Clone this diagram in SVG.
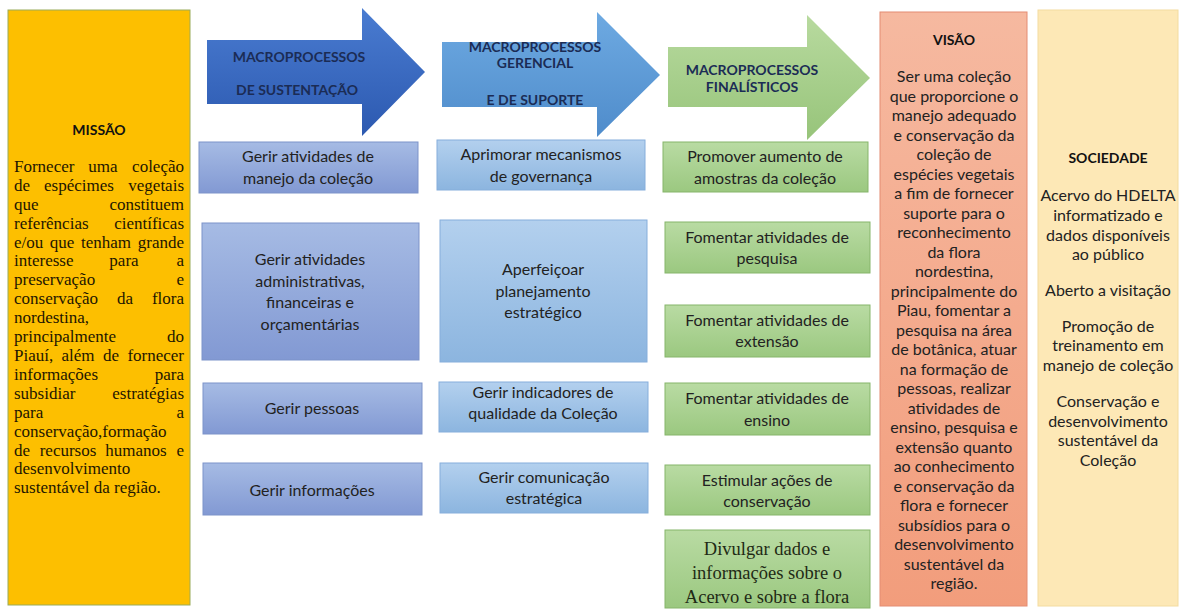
<svg xmlns="http://www.w3.org/2000/svg" width="1185" height="609" viewBox="0 0 1185 609">
<defs>
<linearGradient id="gA1" x1="0" y1="0" x2="0" y2="1"><stop offset="0" stop-color="#4a7cd1"/><stop offset="1" stop-color="#2c59b0"/></linearGradient>
<linearGradient id="gA2" x1="0" y1="0" x2="0" y2="1"><stop offset="0" stop-color="#6eaae2"/><stop offset="1" stop-color="#4f8ccb"/></linearGradient>
<linearGradient id="gA3" x1="0" y1="0" x2="0" y2="1"><stop offset="0" stop-color="#b8da9f"/><stop offset="1" stop-color="#97c47a"/></linearGradient>
<linearGradient id="gB" x1="0" y1="0" x2="0" y2="1"><stop offset="0" stop-color="#a6bbe4"/><stop offset="1" stop-color="#8299d3"/></linearGradient>
<linearGradient id="gC" x1="0" y1="0" x2="0" y2="1"><stop offset="0" stop-color="#b3d0ee"/><stop offset="1" stop-color="#8cb5df"/></linearGradient>
<linearGradient id="gG" x1="0" y1="0" x2="0" y2="1"><stop offset="0" stop-color="#b9dba3"/><stop offset="1" stop-color="#9bc880"/></linearGradient>
<linearGradient id="gV" x1="0" y1="0" x2="0" y2="1"><stop offset="0" stop-color="#f6b9a0"/><stop offset="1" stop-color="#f29d7c"/></linearGradient>
</defs>
<style>
.t{font-family:Lato,"Liberation Sans",sans-serif;font-size:16px;fill:#222;text-anchor:middle}
.h{font-family:Lato,"Liberation Sans",sans-serif;font-size:14px;font-weight:bold;fill:#111;text-anchor:middle}
.ah{font-family:Lato,"Liberation Sans",sans-serif;font-size:14px;font-weight:bold;fill:#1b2c55;text-anchor:middle}
.ms{font-family:"Liberation Serif","Times New Roman",serif;font-size:17px;fill:#1e1600}
.mm{text-anchor:middle}
.r{text-anchor:end}
.sf{font-family:"Liberation Serif","Times New Roman",serif;font-size:18.5px;fill:#1f2a15;text-anchor:middle}
.bB{fill:url(#gB);stroke:#7d93c9;stroke-width:1}
.bC{fill:url(#gC);stroke:#86aedb;stroke-width:1}
.bG{fill:url(#gG);stroke:#86b56b;stroke-width:1}
</style>

<g id="missao">
<rect x="8" y="10" width="182" height="595" fill="#fdbf00" stroke="#9aab5a" stroke-width="1"/>
<text class="h" x="99" y="135">MISSÃO</text>
<text class="ms" x="14" y="172">Fornecer</text><text class="ms mm" x="103" y="172">uma</text><text class="ms r" x="184" y="172">coleção</text>
<text class="ms" x="14" y="191">de</text><text class="ms mm" x="79" y="191">espécimes</text><text class="ms r" x="184" y="191">vegetais</text>
<text class="ms" x="14" y="210">que</text><text class="ms r" x="184" y="210">constituem</text>
<text class="ms" x="14" y="229">referências</text><text class="ms r" x="184" y="229">científicas</text>
<text class="ms" x="14" y="248">e/ou</text><text class="ms mm" x="62" y="248">que</text><text class="ms mm" x="106" y="248">tenham</text><text class="ms r" x="184" y="248">grande</text>
<text class="ms" x="14" y="266">interesse</text><text class="ms mm" x="124" y="266">para</text><text class="ms r" x="184" y="266">a</text>
<text class="ms" x="14" y="285">preservação</text><text class="ms r" x="184" y="285">e</text>
<text class="ms" x="14" y="304">conservação</text><text class="ms mm" x="125" y="304">da</text><text class="ms r" x="184" y="304">flora</text>
<text class="ms" x="14" y="323">nordestina,</text>
<text class="ms" x="14" y="342">principalmente</text><text class="ms r" x="184" y="342">do</text>
<text class="ms" x="14" y="361">Piauí,</text><text class="ms mm" x="78" y="361">além</text><text class="ms mm" x="111" y="361">de</text><text class="ms r" x="184" y="361">fornecer</text>
<text class="ms" x="14" y="380">informações</text><text class="ms r" x="184" y="380">para</text>
<text class="ms" x="14" y="399">subsidiar</text><text class="ms r" x="184" y="399">estratégias</text>
<text class="ms" x="14" y="418">para</text><text class="ms r" x="184" y="418">a</text>
<text class="ms" x="14" y="437">conservação,formação</text>
<text class="ms" x="14" y="456">de</text><text class="ms mm" x="68" y="456">recursos</text><text class="ms mm" x="136" y="456">humanos</text><text class="ms r" x="184" y="456">e</text>
<text class="ms" x="14" y="474">desenvolvimento</text>
<text class="ms" x="14" y="493">sustentável da região.</text>
</g>

<g id="arrow-sustentacao">
<polygon points="207,40 362,40 362,8 425,72 362,136 362,104 207,104" fill="url(#gA1)"/>
<text class="ah" x="299" y="62">MACROPROCESSOS</text>
<text class="ah" x="297" y="95">DE SUSTENTAÇÃO</text>
</g>
<g id="arrow-gerencial">
<polygon points="442,42 597,42 597,12 660,75 597,137 597,107 442,107" fill="url(#gA2)"/>
<text class="ah" x="535" y="52">MACROPROCESSOS</text>
<text class="ah" x="535" y="68">GERENCIAL</text>
<text class="ah" x="535" y="105">E DE SUPORTE</text>
</g>
<g id="arrow-finalisticos">
<polygon points="668,47 807,47 807,15 870,78 807,140 807,107 668,107" fill="url(#gA3)"/>
<text class="ah" x="752" y="75">MACROPROCESSOS</text>
<text class="ah" x="752" y="92">FINALÍSTICOS</text>
</g>

<g id="b1"><rect class="bB" x="199" y="142" width="219" height="51"/>
<text class="t" x="308" y="162">Gerir atividades de</text><text class="t" x="308" y="184">manejo da coleção</text></g>
<g id="b2"><rect class="bB" x="202" y="223" width="217" height="137"/>
<text class="t" x="310" y="265">Gerir atividades</text><text class="t" x="310" y="287">administrativas,</text><text class="t" x="310" y="308">financeiras e</text><text class="t" x="310" y="330">orçamentárias</text></g>
<g id="b3"><rect class="bB" x="203" y="383" width="219" height="51"/>
<text class="t" x="312" y="414">Gerir pessoas</text></g>
<g id="b4"><rect class="bB" x="203" y="463" width="219" height="52"/>
<text class="t" x="312" y="496">Gerir informações</text></g>

<g id="c1"><rect class="bC" x="437" y="140" width="208" height="50"/>
<text class="t" x="541" y="160">Aprimorar mecanismos</text><text class="t" x="541" y="182">de governança</text></g>
<g id="c2"><rect class="bC" x="440" y="220" width="207" height="142"/>
<text class="t" x="543" y="275">Aperfeiçoar</text><text class="t" x="543" y="297">planejamento</text><text class="t" x="543" y="318">estratégico</text></g>
<g id="c3"><rect class="bC" x="439" y="382" width="209" height="50"/>
<text class="t" x="543" y="398">Gerir indicadores de</text><text class="t" x="543" y="419">qualidade da Coleção</text></g>
<g id="c4"><rect class="bC" x="440" y="463" width="208" height="50"/>
<text class="t" x="544" y="483">Gerir comunicação</text><text class="t" x="544" y="504">estratégica</text></g>

<g id="g1"><rect class="bG" x="663" y="142" width="205" height="50"/>
<text class="t" x="765" y="162">Promover aumento de</text><text class="t" x="765" y="184">amostras da coleção</text></g>
<g id="g2"><rect class="bG" x="665" y="222" width="205" height="51"/>
<text class="t" x="767" y="243">Fomentar atividades de</text><text class="t" x="767" y="264">pesquisa</text></g>
<g id="g3"><rect class="bG" x="665" y="305" width="205" height="52"/>
<text class="t" x="767" y="326">Fomentar atividades de</text><text class="t" x="767" y="347">extensão</text></g>
<g id="g4"><rect class="bG" x="665" y="383" width="205" height="52"/>
<text class="t" x="767" y="404">Fomentar atividades de</text><text class="t" x="767" y="426">ensino</text></g>
<g id="g5"><rect class="bG" x="665" y="465" width="205" height="50"/>
<text class="t" x="767" y="486">Estimular ações de</text><text class="t" x="767" y="507">conservação</text></g>
<g id="g6"><rect class="bG" x="665" y="530" width="205" height="78"/>
<text class="sf" x="767" y="555">Divulgar dados e</text><text class="sf" x="767" y="579">informações sobre o</text><text class="sf" x="767" y="603">Acervo e sobre a flora</text></g>

<g id="visao">
<rect x="880" y="12" width="147" height="594" fill="url(#gV)" stroke="#e48c72" stroke-width="1"/>
<text class="h" x="954" y="45">VISÃO</text>
<text class="t" x="954" y="82">Ser uma coleção</text>
<text class="t" x="954" y="101.5">que proporcione o</text>
<text class="t" x="954" y="121">manejo adequado</text>
<text class="t" x="954" y="140.5">e conservação da</text>
<text class="t" x="954" y="160">coleção de</text>
<text class="t" x="954" y="179.5">espécies vegetais</text>
<text class="t" x="954" y="199">a fim de fornecer</text>
<text class="t" x="954" y="218.5">suporte para o</text>
<text class="t" x="954" y="238">reconhecimento</text>
<text class="t" x="954" y="257.5">da flora</text>
<text class="t" x="954" y="277">nordestina,</text>
<text class="t" x="954" y="296.5">principalmente do</text>
<text class="t" x="954" y="316">Piau, fomentar a</text>
<text class="t" x="954" y="335.5">pesquisa na área</text>
<text class="t" x="954" y="355">de botânica, atuar</text>
<text class="t" x="954" y="374.5">na formação de</text>
<text class="t" x="954" y="394">pessoas, realizar</text>
<text class="t" x="954" y="413.5">atividades de</text>
<text class="t" x="954" y="433">ensino, pesquisa e</text>
<text class="t" x="954" y="452.5">extensão quanto</text>
<text class="t" x="954" y="472">ao conhecimento</text>
<text class="t" x="954" y="491.5">e conservação da</text>
<text class="t" x="954" y="511">flora e fornecer</text>
<text class="t" x="954" y="530.5">subsídios para o</text>
<text class="t" x="954" y="550">desenvolvimento</text>
<text class="t" x="954" y="569.5">sustentável da</text>
<text class="t" x="954" y="589">região.</text>
</g>

<g id="sociedade">
<rect x="1038" y="10" width="140" height="596" fill="#fde8b6" stroke="#f3dca0" stroke-width="1"/>
<text class="h" x="1108" y="163">SOCIEDADE</text>
<text class="t" x="1108" y="201">Acervo do HDELTA</text>
<text class="t" x="1108" y="221">informatizado e</text>
<text class="t" x="1108" y="241">dados disponíveis</text>
<text class="t" x="1108" y="260">ao público</text>
<text class="t" x="1108" y="296">Aberto a visitação</text>
<text class="t" x="1108" y="332">Promoção de</text>
<text class="t" x="1108" y="351">treinamento em</text>
<text class="t" x="1108" y="371">manejo de coleção</text>
<text class="t" x="1108" y="407">Conservação e</text>
<text class="t" x="1108" y="427">desenvolvimento</text>
<text class="t" x="1108" y="446">sustentável da</text>
<text class="t" x="1108" y="466">Coleção</text>
</g>
<g id="connectors"/>
</svg>
